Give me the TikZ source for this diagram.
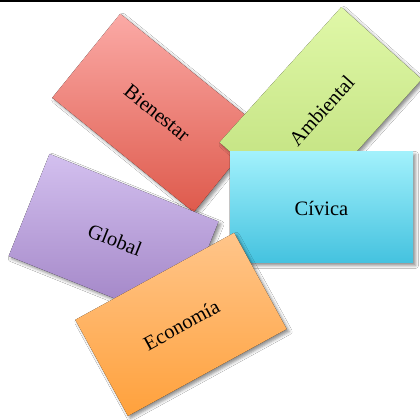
\documentclass[tikz,border=0pt]{standalone}
\usepackage{fontspec}
\setmainfont{Liberation Serif}
\usetikzlibrary{calc,shadows.blur}
\definecolor{redT}{HTML}{FBAAA6}
\definecolor{redB}{HTML}{DE5A4C}
\definecolor{grnT}{HTML}{E0F8A8}
\definecolor{grnB}{HTML}{BCDD78}
\definecolor{cyaT}{HTML}{A2F1FC}
\definecolor{cyaB}{HTML}{44C2DF}
\definecolor{purT}{HTML}{D3C0EF}
\definecolor{purB}{HTML}{9E80C3}
\definecolor{orgT}{HTML}{FFC58A}
\definecolor{orgB}{HTML}{FFA13C}
\newcommand\mycard[7]{%
  \fill[cardshadow, top color=#6, bottom color=#7]
    ($(#1,#2)+(#3:#4pt)+(#3+90:#5pt)$) --
    ($(#1,#2)+(#3:#4pt)+(#3-90:#5pt)$) --
    ($(#1,#2)+(#3+180:#4pt)+(#3-90:#5pt)$) --
    ($(#1,#2)+(#3+180:#4pt)+(#3+90:#5pt)$) -- cycle;}
\tikzset{
  cardshadow/.style={blur shadow={shadow xshift=2.5pt, shadow yshift=-2.5pt,
      shadow blur radius=3pt, shadow opacity=45}},
  lbl/.style={font=\fontsize{20.5}{24}\selectfont, text=black, inner sep=0pt}
}
\begin{document}
\begin{tikzpicture}[x=1pt,y=1pt]
\fill[white] (0,0) rectangle (420,420);
\useasboundingbox (0,0) rectangle (420,420);
% top rule
\fill[black] (0,418.3) rectangle (420,420);
% Bienestar
\mycard{157}{307}{-39}{91}{54}{redT}{redB}
\node[lbl, rotate=-39] (bien) at (157,307) {Bienestar};
% Ambiental
\mycard{320.6}{309.2}{48}{91}{54}{grnT}{grnB}
\node[lbl, rotate=48] (amb) at (321.5,309) {Ambiental};
% Civica
\mycard{321.5}{212.5}{0}{91.5}{55.5}{cyaT}{cyaB}
\node[lbl] (civ) at (321.5,212) {Cívica};
% Global
\mycard{113.6}{181.2}{-21.8}{91}{55}{purT}{purB}
\node[lbl, rotate=-21.8] (glob) at (115,180) {Global};
% Economia
\mycard{181}{95.6}{28.7}{90.5}{54.8}{orgT}{orgB}
\node[lbl, rotate=28.7] (eco) at (181.5,95) {Economía};
\end{tikzpicture}
\end{document}
